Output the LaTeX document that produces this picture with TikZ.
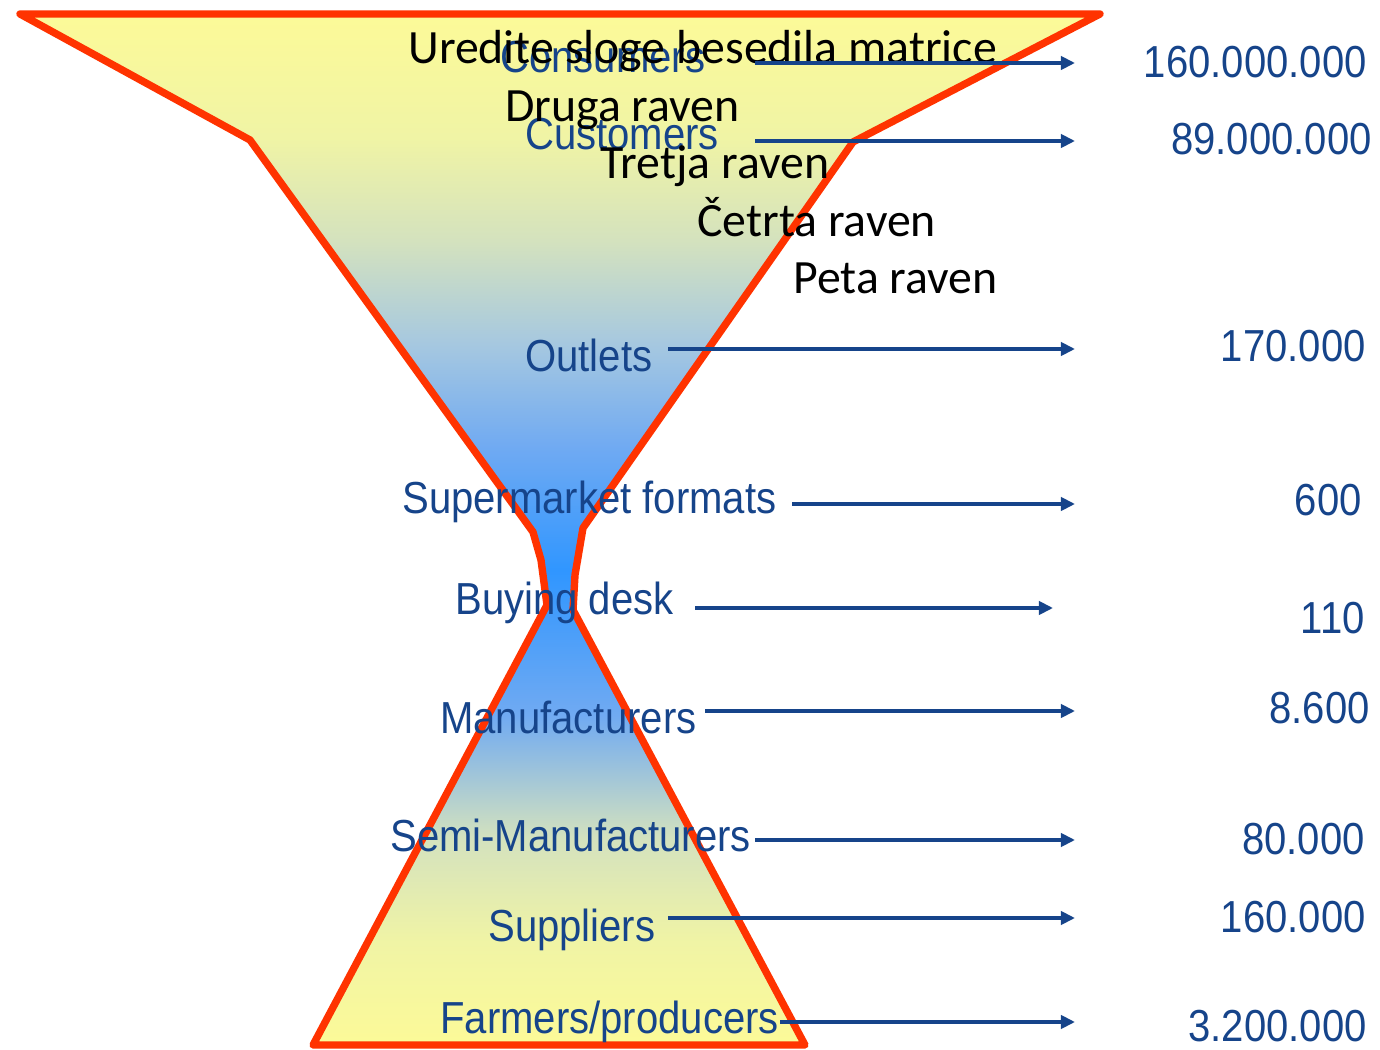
\documentclass[tikz,border=0pt]{standalone}
\usepackage{fontspec}
\setmainfont{Liberation Sans}
\newfontfamily\calibrifont{Carlito}
\usetikzlibrary{arrows.meta}

\definecolor{hgyellow}{RGB}{252,250,152}
\definecolor{hgpale}{RGB}{240,244,165}
\definecolor{hggreen}{RGB}{212,226,190}
\definecolor{hggrey}{RGB}{166,200,224}
\definecolor{hgsky}{RGB}{112,170,242}
\definecolor{hgblue}{RGB}{48,150,255}
\definecolor{hgred}{RGB}{255,51,0}
\definecolor{hgtext}{RGB}{22,68,138}

% vertical gradient: yellow at both ends, blue at the neck
\pgfdeclareverticalshading{hourglass}{100bp}{color(0bp)=(hgyellow); color(25bp)=(hgyellow);
  color(30bp)=(hgpale); color(35bp)=(hggreen); color(41bp)=(hgsky); color(48bp)=(hgblue);
  color(54bp)=(hgsky); color(59bp)=(hggrey); color(64bp)=(hggreen); color(69bp)=(hgpale);
  color(75bp)=(hgyellow); color(100bp)=(hgyellow)}

% the slide text is a little taller than wide
\newcommand{\tall}[1]{\scalebox{1}[1.12]{#1}}

\begin{document}
\begin{tikzpicture}[
  x=0.02cm, y=-0.02cm,
  level/.style={font=\fontsize{22.8pt}{26pt}\selectfont, text=hgtext,
                inner sep=0pt, anchor=base west},
  count/.style={font=\fontsize{22.8pt}{26pt}\selectfont, text=hgtext,
                inner sep=0pt, anchor=base east},
  placeholder/.style={font=\calibrifont\fontsize{27.2pt}{31pt}\selectfont,
                      text=black, inner sep=0pt, anchor=base west},
  rim/.style={draw=hgred, line width=4.2pt, line join=round},
  flow/.style={-{Triangle[length=8pt, width=7.5pt]}, line width=2.2pt, hgtext}
]
  \useasboundingbox (0,0) rectangle (1380,1050);

  % Hourglass outline
  \draw[rim, shade, shading=hourglass]
    (20,14) -- (1100,14) -- (853,142) -- (583,528) -- (575,575) -- (573,610)
    -- (805,1045) -- (313,1045) -- (547,605) -- (541,560) -- (533,532)
    -- (250,140) -- cycle;

  % Levels of the chain
  \node[level] (consumers) at (500,73) {\tall{Consumers}};
  \node[level] (customers) at (525,150) {\tall{Customers}};
  \node[level] (outlets) at (525,372) {\tall{Outlets}};
  \node[level] (supermarkets) at (402,514) {\tall{Supermarket formats}};
  \node[level] (buyingdesk) at (455,615) {\tall{Buying desk}};
  \node[level] (manufacturers) at (440,733) {\tall{Manufacturers}};
  \node[level] (semimanufacturers) at (390,851) {\tall{Semi-Manufacturers}};
  \node[level] (suppliers) at (488,941) {\tall{Suppliers}};
  \node[level] (farmers) at (440,1033) {\tall{Farmers/producers}};

  % Counts (right column)
  \node[count] (n-consumers) at (1367,78) {\tall{160.000.000}};
  \node[count] (n-customers) at (1372,155) {\tall{89.000.000}};
  \node[count] (n-outlets) at (1366,362) {\tall{170.000}};
  \node[count] (n-supermarkets) at (1362,516) {\tall{600}};
  \node[count] (n-buyingdesk) at (1365,634) {\tall{110}};
  \node[count] (n-manufacturers) at (1370,724) {\tall{8.600}};
  \node[count] (n-semimanufacturers) at (1365,854) {\tall{80.000}};
  \node[count] (n-suppliers) at (1366,932) {\tall{160.000}};
  \node[count] (n-farmers) at (1367,1041) {\tall{3.200.000}};

  % Placeholder text of the master slide
  \node[placeholder] (title) at (408,64) {Uredite sloge besedila matrice};
  \node[placeholder] (second) at (505,122) {Druga raven};
  \node[placeholder] (third) at (600,179) {Tretja raven};
  \node[placeholder] (fourth) at (697,237) {Četrta raven};
  \node[placeholder] (fifth) at (793,294) {Peta raven};

  % Arrow ends
  \coordinate (consumers-out) at (755,63);
  \coordinate (consumers-in) at (1075,63);
  \coordinate (customers-out) at (755,141);
  \coordinate (customers-in) at (1075,141);
  \coordinate (outlets-out) at (668,349);
  \coordinate (outlets-in) at (1075,349);
  \coordinate (supermarkets-out) at (792,504);
  \coordinate (supermarkets-in) at (1075,504);
  \coordinate (buyingdesk-out) at (695,608);
  \coordinate (buyingdesk-in) at (1053,608);
  \coordinate (manufacturers-out) at (705,711);
  \coordinate (manufacturers-in) at (1075,711);
  \coordinate (semimanufacturers-out) at (755,840);
  \coordinate (semimanufacturers-in) at (1075,840);
  \coordinate (suppliers-out) at (668,918);
  \coordinate (suppliers-in) at (1075,918);
  \coordinate (farmers-out) at (780,1022);
  \coordinate (farmers-in) at (1075,1022);

  % Arrows
  \draw[flow] (consumers-out) -- (consumers-in);
  \draw[flow] (customers-out) -- (customers-in);
  \draw[flow] (outlets-out) -- (outlets-in);
  \draw[flow] (supermarkets-out) -- (supermarkets-in);
  \draw[flow] (buyingdesk-out) -- (buyingdesk-in);
  \draw[flow] (manufacturers-out) -- (manufacturers-in);
  \draw[flow] (semimanufacturers-out) -- (semimanufacturers-in);
  \draw[flow] (suppliers-out) -- (suppliers-in);
  \draw[flow] (farmers-out) -- (farmers-in);
\end{tikzpicture}
\end{document}
